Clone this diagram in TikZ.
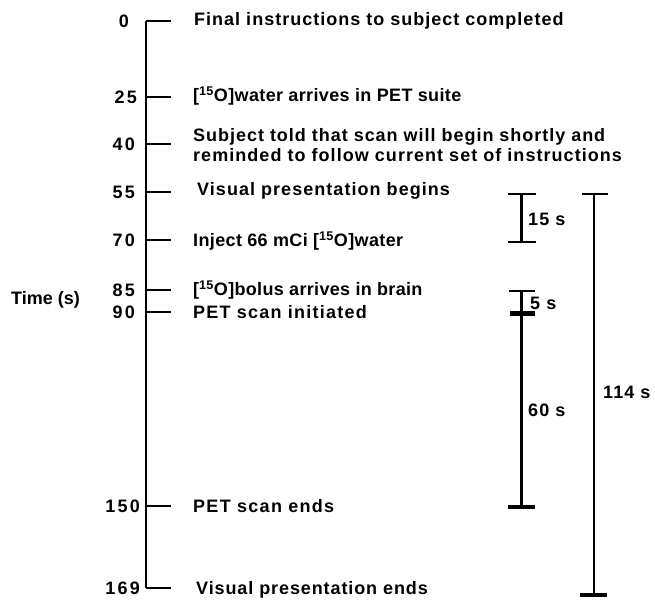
\documentclass[tikz,border=0pt]{standalone}
\usepackage{fontspec}
\setmainfont{Liberation Sans}
\newcommand{\ls}[1]{\addfontfeature{LetterSpace=#1}}
\begin{document}
\begin{tikzpicture}[x=1pt,y=-1pt,
  lbl/.style={font=\bfseries\fontsize{18}{20}\selectfont, inner sep=0pt, anchor=west, align=left},
  num/.style={font=\bfseries\fontsize{18}{20}\selectfont\ls{12}, inner sep=0pt, anchor=east},
  axisline/.style={line width=1.8pt},
  tickline/.style={line width=1.6pt},
  barline/.style={line width=2.2pt},
  capline/.style={line width=2.6pt},
  bigcap/.style={line width=3.2pt},
  thickbar/.style={line width=5pt}]
\useasboundingbox (0,0) rectangle (655,599);
% axis points
\coordinate (t0) at (146,21);
\coordinate (t25) at (146,97);
\coordinate (t40) at (146,144);
\coordinate (t55) at (146,192);
\coordinate (t70) at (146,240);
\coordinate (t85) at (146,290);
\coordinate (t90) at (146,312);
\coordinate (t150) at (146,506);
\coordinate (t169) at (146,588);
\draw[axisline] (t0) -- (t169);
\foreach \t in {0,25,40,55,70,85,90,150,169}{
  \draw[tickline] (t\t) -- ++(25,0) coordinate (e\t);
}
% numbers
\node[num] (n0) at (129,21) {0};
\node[num] (n25) at (137,97) {25};
\node[num] (n40) at (135,144) {40};
\node[num] (n55) at (135,192) {55};
\node[num] (n70) at (135,240) {70};
\node[num] (n85) at (135,290) {85};
\node[num] (n90) at (135,312) {90};
\node[num] (n150) at (140,506) {150};
\node[num] (n169) at (140,588) {169};
\node[lbl] (time) at (11,300) {Time (s)};
% labels
\node[lbl] (l0) at (194,21) {\ls{5.6}Final instructions to subject completed};
\node[lbl] (l25) at (193,96) {\ls{2}[\textsuperscript{15}O]water arrives in PET suite};
\node[lbl] (l40) at (193,145) {\ls{5.4}Subject told that scan will begin shortly and\\\ls{5.8}reminded to follow current set of instructions};
\node[lbl] (l55) at (197,191) {\ls{5.8}Visual presentation begins};
\node[lbl] (l70) at (193,241) {\ls{2}Inject 66 mCi [\textsuperscript{15}O]water};
\node[lbl] (l85) at (193,290) {\ls{1.8}[\textsuperscript{15}O]bolus arrives in brain};
\node[lbl] (l90) at (193,312) {\ls{6.9}PET scan initiated};
\node[lbl] (l150) at (193,506) {\ls{7.2}PET scan ends};
\node[lbl] (l169) at (196,590) {\ls{5}Visual presentation ends};
% 15 s bracket
\coordinate (a1) at (521.5,194);
\coordinate (a2) at (521.5,242);
\draw[barline] (a1) -- (a2);
\draw[capline] (508,194) -- (536,194);
\draw[capline] (508,242) -- (536,242);
\node[lbl] (s15) at (528,219) {\ls{6}15 s};
% 5 s / 60 s bracket
\coordinate (b1) at (521.5,291);
\coordinate (b2) at (521.5,313);
\coordinate (b3) at (521.5,507);
\draw[barline] (b1) -- (b3);
\draw[capline] (509,291) -- (535,291);
\draw[thickbar] (510,313) -- (535,313);
\draw[bigcap] (508,507) -- (535,507);
\node[lbl] (s5) at (530,303) {\ls{6}5 s};
\node[lbl] (s60) at (528,410) {\ls{6}60 s};
% 114 s bracket
\coordinate (c1) at (594,194);
\coordinate (c2) at (594,595);
\draw[barline] (c1) -- (c2);
\draw[capline] (582,194) -- (608,194);
\draw[bigcap] (580,595) -- (607,595);
\node[lbl] (s114) at (603,392) {\ls{6}114 s};
\end{tikzpicture}
\end{document}
